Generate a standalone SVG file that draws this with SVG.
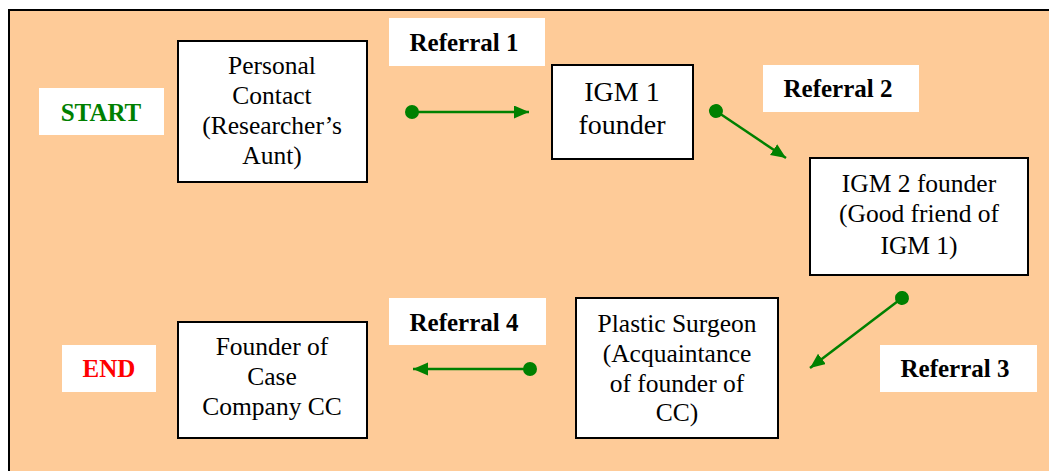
<svg xmlns="http://www.w3.org/2000/svg" width="1049" height="471" viewBox="0 0 1049 471">
<style>
.node{fill:#fff;stroke:#000;stroke-width:2}
.lbl{fill:#fff;stroke:none}
.t{font-family:"Liberation Serif","Times New Roman",serif;font-size:25.5px;fill:#000;text-anchor:middle}
.b{font-family:"Liberation Serif","Times New Roman",serif;font-size:25px;font-weight:bold;fill:#000;text-anchor:middle}
.conn{stroke:#008000;stroke-width:2.5;fill:none;marker-start:url(#dot);marker-end:url(#arr)}
</style>
<defs>
<marker id="arr" markerUnits="userSpaceOnUse" markerWidth="16" markerHeight="14" refX="15" refY="6.5" orient="auto">
<path d="M0,0 L15,6.5 L0,13 z" fill="#008000"/>
</marker>
<marker id="dot" markerUnits="userSpaceOnUse" markerWidth="16" markerHeight="16" refX="8" refY="8" orient="auto">
<circle cx="8" cy="8" r="7" fill="#008000"/>
</marker>
</defs>
<rect x="0" y="0" width="1049" height="471" fill="#fff"/>
<rect x="9" y="10" width="1060" height="480" fill="#FECB98" stroke="#000" stroke-width="2"/>

<g id="start">
<rect class="lbl" x="39" y="88" width="125" height="47"/>
<text class="b" x="101" y="121" style="fill:#008000">START</text>
</g>
<g id="end">
<rect class="lbl" x="62" y="345" width="94" height="47"/>
<text class="b" x="109" y="377" style="fill:#FF0000">END</text>
</g>

<g id="personal-contact">
<rect class="node" x="178" y="41" width="189" height="141"/>
<text class="t" x="272" y="74">Personal</text>
<text class="t" x="272" y="104">Contact</text>
<text class="t" x="272" y="134">(Researcher’s</text>
<text class="t" x="272" y="164">Aunt)</text>
</g>

<g id="igm1">
<rect class="node" x="552" y="65" width="141" height="94"/>
<text class="t" x="622" y="101" style="font-size:28px">IGM 1</text>
<text class="t" x="622" y="134" style="font-size:28px">founder</text>
</g>

<g id="igm2">
<rect class="node" x="810" y="158" width="218" height="117"/>
<text class="t" x="919" y="192">IGM 2 founder</text>
<text class="t" x="919" y="222">(Good friend of</text>
<text class="t" x="919" y="254">IGM 1)</text>
</g>

<g id="plastic-surgeon">
<rect class="node" x="576" y="298" width="202" height="140"/>
<text class="t" x="677" y="332">Plastic Surgeon</text>
<text class="t" x="677" y="362">(Acquaintance</text>
<text class="t" x="677" y="392">of founder of</text>
<text class="t" x="677" y="421">CC)</text>
</g>

<g id="founder-cc">
<rect class="node" x="178" y="322" width="189" height="116"/>
<text class="t" x="272" y="355">Founder of</text>
<text class="t" x="272" y="385">Case</text>
<text class="t" x="272" y="415">Company CC</text>
</g>

<g id="referral-labels">
<g id="ref1"><rect class="lbl" x="389" y="18" width="156" height="48"/><text class="b" x="464" y="51">Referral 1</text></g>
<g id="ref2"><rect class="lbl" x="763" y="65" width="156" height="47"/><text class="b" x="838" y="97">Referral 2</text></g>
<g id="ref3"><rect class="lbl" x="880" y="345" width="157" height="47"/><text class="b" x="955" y="377">Referral 3</text></g>
<g id="ref4"><rect class="lbl" x="389" y="298" width="157" height="47"/><text class="b" x="464" y="331">Referral 4</text></g>
</g>

<g id="connectors">
<line class="conn" x1="412" y1="112" x2="529" y2="112"/>
<line class="conn" x1="716" y1="111" x2="786" y2="158"/>
<line class="conn" x1="902" y1="298" x2="810" y2="368"/>
<line class="conn" x1="530" y1="369" x2="413" y2="369"/>
</g>
</svg>
